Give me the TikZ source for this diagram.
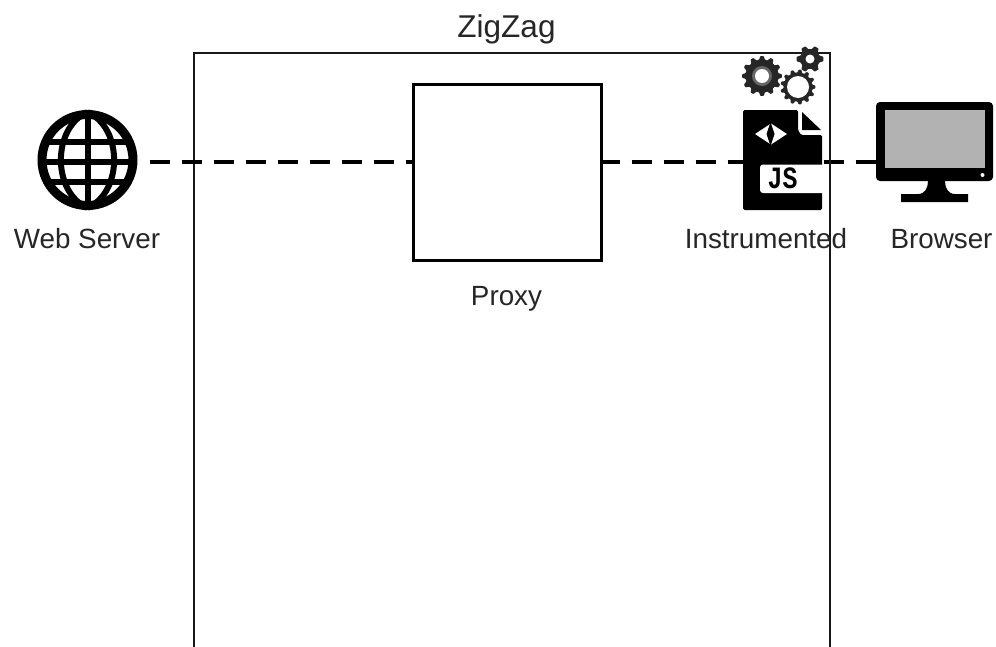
\documentclass[tikz,border=0pt]{standalone}
\usepackage{fontspec}
\setmainfont{Liberation Sans}
\newfontfamily\jsfont{Liberation Mono}
\tikzset{
  lbl/.style={font=\fontsize{27.8}{30}\selectfont,text=black!85,inner sep=0pt},
  framebox/.style={draw=black!90,line width=1.6pt,minimum width=636pt,minimum height=620pt,inner sep=0pt},
  proxybox/.style={draw=black,line width=3pt,minimum width=188pt,minimum height=176pt,inner sep=0pt},
  iconspot/.style={inner sep=0pt,outer sep=0pt},
  wire/.style={line width=3.4pt,draw=black,dash pattern=on 20pt off 12pt},
  globeline/.style={draw=black,line width=6pt}
}
\newcommand{\cog}[6]{% cx cy outer root teeth colour
  \fill[#6,rounded corners=0.6pt] ({#1+#3},{#2})
  \foreach \k in {1,...,#5}{
    -- ({#1+#3*cos(360*(\k-1)/#5+360*0.16/#5)},{#2+#3*sin(360*(\k-1)/#5+360*0.16/#5)})
    -- ({#1+#4*cos(360*(\k-1)/#5+360*0.34/#5)},{#2+#4*sin(360*(\k-1)/#5+360*0.34/#5)})
    -- ({#1+#4*cos(360*(\k-1)/#5+360*0.66/#5)},{#2+#4*sin(360*(\k-1)/#5+360*0.66/#5)})
    -- ({#1+#3*cos(360*(\k-1)/#5+360*0.84/#5)},{#2+#3*sin(360*(\k-1)/#5+360*0.84/#5)})
  } -- cycle;}
\begin{document}
\begin{tikzpicture}[x=1pt,y=-1pt]
\clip (0,0) rectangle (996,646);
\fill[white] (0,0) rectangle (996,646);
% frame
\node[framebox] (zz) at (512,363) {};
\node[lbl,font=\fontsize{31.5}{34}\selectfont] (title) at (506.5,29) {ZigZag};
% nodes
\node[proxybox] (proxy) at (507,172) {};
\node[lbl] (proxylbl) at (506.5,298.5) {Proxy};
\node[iconspot,circle,minimum size=101pt] (web) at (87.5,162) {};
\node[lbl] (weblbl) at (87,239) {Web Server};
\node[iconspot,minimum width=117pt,minimum height=100pt] (browser) at (934.5,152) {};
\node[lbl] (browserlbl) at (941.5,239) {Browser};
\node[iconspot,minimum width=79pt,minimum height=100pt] (js) at (782.5,160) {};
\node[lbl] (jslbl) at (766,239) {Instrumented};
% connectors
\draw[wire,dash phase=-12pt] (web.east) -- (web.east -| proxy.west);
\draw[wire,dash phase=3pt] (web.east -| proxy.east) -- (web.east -| browser.west);
% globe
\draw[line width=9pt] (87.5,160) circle (45.5);
\draw[globeline] (87.5,112) -- (87.5,208);
\draw[globeline] (87.5,112) .. controls (52,128) and (52,192) .. (87.5,208);
\draw[globeline] (87.5,112) .. controls (123,128) and (123,192) .. (87.5,208);
\draw[globeline] (41,162) -- (134,162);
\draw[globeline] (45,142) -- (130,142);
\draw[globeline] (45,182) -- (130,182);
% browser
\fill[black,rounded corners=4pt] (876,102) rectangle (993,181);
\fill[black!30] (885,110) rectangle (985,168);
\fill[white] (982.5,175) circle (2);
\fill[black] (928,181) -- (945,181) .. controls (945,188) and (948,194) .. (955,194) -- (968,194) -- (968,202) -- (901,202) -- (901,194) -- (918,194) .. controls (925,194) and (928,188) .. (928,181) -- cycle;
% js file
\fill[black,rounded corners=1.5pt] (743,110) -- (798,110) -- (798,130) -- (801,135) -- (822,135) -- (822,210) -- (743,210) -- cycle;
\fill[black] (802,112) -- (821,130) -- (802,130) -- cycle;
\fill[white,rounded corners=3pt] (760,164.5) -- (826,164.5) -- (826,193) -- (760,193) -- cycle;
\draw[black!90,line width=1.6pt] (830,150) -- (830,210);
\fill[white] (755,134) -- (771,123.5) -- (787,134) -- (771,144.5) -- cycle;
\fill[black] (770.5,122) -- (774.5,134) -- (770.5,146) -- (766.5,134) -- cycle;
\node[inner sep=0pt,xscale=0.8,font=\jsfont\bfseries\fontsize{31}{32}\selectfont] (jstext) at (782.5,178) {JS};
% gears
\cog{762}{76}{20}{16.5}{12}{black!85}
\fill[black!60] (762,76) circle (10);
\fill[white] (762,76) circle (7);
\cog{798}{87}{17.5}{14.5}{13}{black!85}
\fill[white] (798,87) circle (11);
\cog{810}{59}{13.5}{10}{6}{black!85}
\fill[white] (810,59) circle (4.5);
\end{tikzpicture}
\end{document}
